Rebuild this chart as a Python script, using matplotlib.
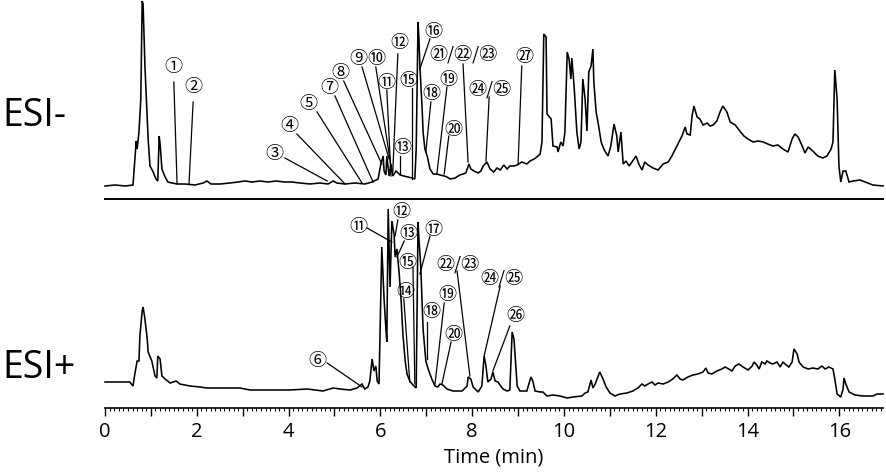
import matplotlib
matplotlib.use("Agg")
import matplotlib.pyplot as plt
from matplotlib.ticker import MultipleLocator, FuncFormatter

# ---------------- data ----------------
# ESI- trace: retention time (min) and relative signal
neg_time = [0.00, 0.22, 0.44, 0.61, 0.68, 0.70, 0.74, 0.78, 0.81, 0.83, 0.87, 0.94, 0.98,
            1.05, 1.11, 1.15, 1.18, 1.20, 1.24, 1.31, 1.37, 1.46, 1.57, 1.74, 1.96, 2.14,
            2.22, 2.31, 2.51, 2.72, 2.90, 3.05, 3.20, 3.38, 3.55, 3.73, 3.90, 4.07, 4.25,
            4.47, 4.68, 4.86, 4.97, 5.05, 5.23, 5.45, 5.66, 5.82, 5.95, 6.01, 6.06, 6.08,
            6.12, 6.14, 6.19, 6.23, 6.27, 6.34, 6.43, 6.51, 6.60, 6.69, 6.75, 6.78, 6.82,
            6.84, 6.86, 6.91, 6.93, 6.97, 7.02, 7.08, 7.15, 7.23, 7.30, 7.39, 7.45, 7.52,
            7.63, 7.73, 7.80, 7.86, 7.93, 7.97, 8.04, 8.13, 8.19, 8.24, 8.32, 8.39, 8.47,
            8.54, 8.61, 8.69, 8.76, 8.82, 8.91, 8.98, 9.08, 9.19, 9.26, 9.35, 9.41, 9.48,
            9.52, 9.56, 9.61, 9.63, 9.72, 9.76, 9.85, 9.87, 9.93, 9.98, 10.02, 10.07, 10.11,
            10.15, 10.17, 10.22, 10.28, 10.33, 10.37, 10.41, 10.46, 10.50, 10.54, 10.59,
            10.63, 10.65, 10.70, 10.74, 10.81, 10.85, 10.89, 10.96, 11.02, 11.09, 11.15,
            11.18, 11.24, 11.29, 11.35, 11.42, 11.48, 11.57, 11.63, 11.70, 11.76, 11.83,
            11.94, 12.05, 12.16, 12.27, 12.35, 12.46, 12.57, 12.64, 12.68, 12.75, 12.79,
            12.83, 12.90, 12.96, 13.03, 13.12, 13.18, 13.25, 13.33, 13.40, 13.46, 13.55,
            13.62, 13.73, 13.83, 13.92, 14.01, 14.12, 14.23, 14.34, 14.44, 14.55, 14.66,
            14.77, 14.88, 14.97, 15.03, 15.10, 15.19, 15.25, 15.32, 15.42, 15.53, 15.64,
            15.73, 15.82, 15.86, 15.90, 15.95, 15.99, 16.03, 16.08, 16.14, 16.21, 16.30,
            16.45, 16.56, 16.73, 16.95]
neg_signal = [13, 14, 13, 14, 58, 50, 67, 100, 198, 195, 133, 60, 33,
              27, 20, 18, 63, 55, 30, 22, 17, 16, 15, 15, 14, 16,
              18, 15, 15, 16, 17, 18, 17, 18, 17, 18, 17, 17, 16,
              15, 16, 15, 18, 16, 15, 16, 15, 17, 20, 35, 43, 28,
              24, 43, 23, 35, 23, 28, 24, 23, 22, 21, 20, 50, 177,
              160, 133, 90, 67, 50, 43, 30, 25, 25, 24, 23, 22, 20,
              21, 24, 25, 26, 35, 30, 28, 26, 28, 33, 37, 30, 27,
              31, 29, 34, 30, 33, 33, 34, 37, 35, 38, 40, 42, 45,
              57, 165, 162, 85, 80, 53, 52, 47, 57, 53, 67, 147, 140,
              120, 141, 113, 67, 50, 57, 120, 100, 68, 127, 133,
              150, 117, 87, 77, 57, 52, 48, 43, 53, 75, 63,
              47, 67, 35, 38, 33, 37, 43, 35, 29, 37, 34,
              31, 29, 35, 37, 43, 53, 63, 72, 65, 64, 83,
              93, 82, 80, 74, 76, 73, 74, 78, 87, 93, 87,
              77, 74, 68, 63, 60, 57, 58, 57, 55, 53, 54,
              50, 47, 60, 65, 62, 53, 46, 52, 48, 43, 41,
              43, 50, 57, 129, 100, 33, 17, 28, 28, 17, 18,
              19, 17, 14, 13]

# ESI+ trace
pos_time = [0.00, 0.28, 0.54, 0.61, 0.65, 0.70, 0.74, 0.76, 0.81, 0.83, 0.87, 0.92, 0.94,
            1.02, 1.09, 1.13, 1.15, 1.20, 1.24, 1.31, 1.42, 1.55, 1.63, 1.85, 2.07, 2.22,
            2.57, 2.94, 3.16, 3.66, 4.03, 4.40, 4.75, 4.97, 5.12, 5.34, 5.49, 5.60, 5.66,
            5.73, 5.77, 5.82, 5.86, 5.90, 5.93, 5.97, 6.03, 6.08, 6.12, 6.14, 6.17, 6.21,
            6.25, 6.30, 6.32, 6.36, 6.41, 6.45, 6.49, 6.54, 6.58, 6.64, 6.71, 6.78, 6.82,
            6.84, 6.88, 6.93, 6.99, 7.04, 7.12, 7.19, 7.25, 7.30, 7.36, 7.45, 7.58, 7.78,
            7.89, 7.91, 7.97, 8.02, 8.13, 8.21, 8.26, 8.30, 8.34, 8.41, 8.45, 8.50, 8.56,
            8.67, 8.76, 8.82, 8.87, 8.91, 8.98, 9.04, 9.19, 9.28, 9.32, 9.37, 9.48, 9.54,
            9.63, 9.76, 9.91, 10.07, 10.20, 10.39, 10.46, 10.52, 10.59, 10.63, 10.68, 10.72,
            10.78, 10.85, 10.92, 11.00, 11.11, 11.22, 11.37, 11.50, 11.61, 11.70, 11.76,
            11.83, 11.92, 11.98, 12.05, 12.16, 12.27, 12.37, 12.46, 12.53, 12.59, 12.70,
            12.81, 12.92, 13.03, 13.09, 13.14, 13.22, 13.33, 13.44, 13.51, 13.59, 13.66,
            13.73, 13.81, 13.90, 14.01, 14.10, 14.14, 14.20, 14.25, 14.31, 14.38, 14.42,
            14.49, 14.55, 14.64, 14.71, 14.77, 14.84, 14.90, 14.97, 15.01, 15.08, 15.12,
            15.21, 15.32, 15.42, 15.53, 15.62, 15.69, 15.77, 15.86, 15.90, 15.95, 16.03,
            16.08, 16.10, 16.14, 16.21, 16.34, 16.51, 16.73, 16.82, 16.95]
pos_signal = [26, 26, 26, 22, 34, 47, 47, 72, 97, 101, 89, 69, 56,
              47, 32, 30, 52, 49, 32, 29, 25, 27, 24, 22, 21, 20,
              20, 20, 18, 18, 18, 19, 17, 20, 19, 18, 20, 24, 19,
              21, 27, 49, 37, 42, 27, 24, 161, 109, 79, 66, 199, 121,
              187, 173, 151, 159, 134, 109, 74, 47, 34, 27, 23, 20, 186,
              169, 141, 79, 47, 39, 29, 22, 21, 24, 23, 19, 17, 17,
              22, 31, 29, 21, 16, 22, 52, 42, 26, 29, 36, 27, 26,
              19, 17, 18, 76, 69, 22, 17, 17, 31, 27, 17, 16, 16,
              12, 13, 12, 10, 11, 12, 15, 16, 28, 20, 24, 29,
              36, 29, 21, 15, 12, 14, 15, 17, 20, 24, 22,
              24, 26, 23, 25, 24, 26, 29, 33, 29, 28, 31,
              33, 34, 36, 40, 35, 34, 37, 39, 41, 39, 37,
              42, 44, 41, 38, 42, 46, 43, 39, 46, 44, 47,
              45, 44, 46, 41, 46, 43, 41, 46, 59, 54, 46,
              41, 39, 40, 39, 42, 39, 41, 39, 29, 14, 11,
              19, 30, 24, 16, 13, 12, 12, 14, 14]

# peak labels
neg_labels = ["①", "②", "③", "④", "⑤", "⑦", "⑧", "⑨", "⑩", "⑪", "⑫", "⑬", "⑮",
              "⑯", "⑱", "⑲", "⑳", "㉑/㉒/㉓", "㉔/㉕", "㉗"]
pos_labels = ["⑥", "⑪", "⑫", "⑬", "⑮", "⑭", "⑰", "⑱", "⑲", "⑳", "㉒/㉓", "㉔/㉕", "㉖"]

# ---------------- layout of the annotations ----------------
# label centre (t, v), leader start (t, v), leader end (t, v)
neg_label_xy = [(1.50, 133), (1.92, 113), (3.68, 46), (4.01, 74), (4.44, 96), (4.88, 112),
                (5.12, 127), (5.52, 141), (5.92, 141), (6.12, 117), (6.41, 157), (6.47, 52),
                (6.60, 119), (7.15, 168), (7.12, 106), (7.49, 120), (7.60, 70), (7.80, 146),
                (8.39, 111), (9.13, 143)]
neg_lead_a = [(1.50, 117), (1.92, 97), (3.92, 41), (4.18, 65), (4.62, 87), (5.01, 103),
              (5.20, 118), (5.60, 132), (5.90, 132), (6.14, 109), (6.38, 145), (6.43, 43),
              (6.69, 111), (7.08, 160), (7.10, 97), (7.45, 112), (7.49, 63), (7.80, 135),
              (8.37, 102), (9.08, 133)]
neg_lead_b = [(1.57, 15), (1.83, 15), (4.84, 18), (5.23, 15), (5.60, 16), (5.84, 17),
              (6.03, 35), (6.19, 40), (6.25, 27), (6.23, 23), (6.27, 27), (6.43, 25),
              (6.69, 20), (6.86, 130), (6.99, 47), (7.23, 25), (7.39, 25), (7.91, 37),
              (8.30, 38), (9.00, 35)]
pos_label_xy = [(4.62, 48), (5.53, 182), (6.45, 197), (6.62, 175), (6.58, 146), (6.54, 117),
                (7.15, 179), (7.10, 97), (7.45, 114), (7.60, 74), (7.69, 145), (8.65, 131),
                (8.93, 93)]
pos_lead_a = [(4.84, 45), (5.71, 180), (6.38, 188), (6.52, 167), (6.71, 141), (6.51, 109),
              (7.08, 172), (7.02, 86), (7.39, 105), (7.54, 66), (7.67, 137), (8.61, 122),
              (8.82, 82)]
pos_lead_b = [(5.60, 21), (6.25, 166), (6.32, 172), (6.36, 151), (6.75, 24), (6.64, 26),
              (6.86, 134), (7.02, 49), (7.19, 24), (7.34, 24), (7.95, 32), (8.26, 52),
              (8.45, 37)]

W, H = 886, 477
fig = plt.figure(figsize=(W / 100, H / 100), dpi=100)
ax_top = fig.add_axes([105 / W, 277 / H, 778 / W, 200 / H])
ax_bot = fig.add_axes([105 / W, 68 / H, 778 / W, 209 / H], sharex=ax_top)

LABEL_FONT = ["Noto Sans CJK JP", "DejaVu Sans"]
TEXT_FONT = ["Open Sans", "DejaVu Sans"]

for ax, t, s, ymax in ((ax_top, neg_time, neg_signal, 200), (ax_bot, pos_time, pos_signal, 209)):
    ax.plot(t, s, color="black", lw=1.15, clip_on=False, solid_joinstyle="miter")
    ax.set_ylim(0, ymax)
    for side in ("top", "left", "right"):
        ax.spines[side].set_visible(False)
    ax.set_yticks([])
    ax.patch.set_alpha(0)

ax_top.spines["bottom"].set_linewidth(1.4)
ax_top.tick_params(axis="x", which="both", bottom=False, labelbottom=False)

ax_bot.spines["bottom"].set_linewidth(1.2)
ax_bot.set_xlim(0, 16.95)
ax_bot.xaxis.set_major_locator(MultipleLocator(1))
ax_bot.xaxis.set_minor_locator(MultipleLocator(0.1))
ax_bot.xaxis.set_major_formatter(FuncFormatter(lambda v, p: f"{int(round(v))}" if int(round(v)) % 2 == 0 else ""))
ax_bot.tick_params(axis="x", which="major", length=5.5, width=1.0, pad=4, labelsize=14.5)
ax_bot.tick_params(axis="x", which="minor", length=2.5, width=0.8)
for lbl in ax_bot.get_xticklabels():
    lbl.set_family(TEXT_FONT)
ax_bot.set_xlabel("Time (min)", fontsize=14.5, family=TEXT_FONT, labelpad=4)

for ax, labels, lxy, la, lb in ((ax_top, neg_labels, neg_label_xy, neg_lead_a, neg_lead_b),
                                (ax_bot, pos_labels, pos_label_xy, pos_lead_a, pos_lead_b)):
    for txt, (cx, cy), (ax0, ay0), (bx, by) in zip(labels, lxy, la, lb):
        ax.plot([ax0, bx], [ay0, by], color="black", lw=0.9, clip_on=False)
        ax.text(cx, cy, txt, ha="center", va="center", fontsize=13, family=LABEL_FONT,
                clip_on=False)

fig.text(2 / W, (H - 126) / H, "ESI-", fontsize=27, family=TEXT_FONT, ha="left", va="baseline")
fig.text(2 / W, (H - 378) / H, "ESI+", fontsize=27, family=TEXT_FONT, ha="left", va="baseline")

fig.savefig("out.png", dpi=100)
